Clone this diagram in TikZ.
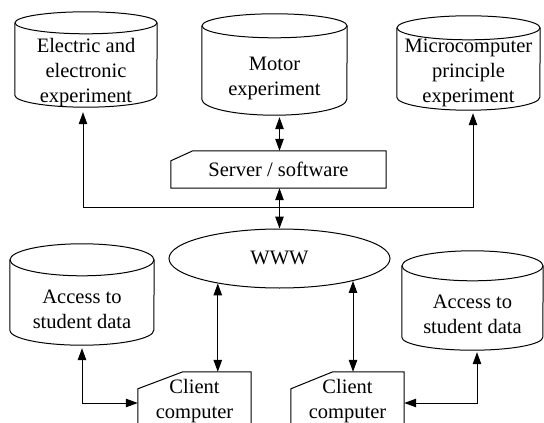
\documentclass[tikz,border=0pt]{standalone}
\usepackage{fontspec}
\setmainfont{Liberation Serif}
\usetikzlibrary{arrows.meta,shapes.geometric,calc}
\tikzset{
  every node/.style={font=\fontsize{20.5}{25}\selectfont, inner sep=0pt, align=center},
  ln/.style={line width=1pt},
  cylbody/.style={draw=none, rectangle},
  cardbox/.style={draw=none, rectangle},
  arr/.style={ln, -{Triangle[length=12pt,width=8.5pt]}},
  darr/.style={ln, {Triangle[length=12pt,width=8.5pt]}-{Triangle[length=12pt,width=8.5pt]}},
}
% name, cx, cy, half width, height, ry top, ry bottom
\newcommand\cylnode[7]{%
  \node[cylbody, minimum width={2*#4pt}, minimum height=#5pt] (#1) at (#2,#3) {};
  \draw[ln] ([yshift=-#6pt]#1.north west) -- ([yshift=#7pt]#1.south west)
     arc[start angle=180, end angle=360, x radius=#4pt, y radius=#7pt]
     -- ([yshift=-#6pt]#1.north east);
  \draw[ln] ([yshift=-#6pt]#1.north) ellipse[x radius=#4pt, y radius=#6pt];
}
% name, cx, cy, width, height, cut x, cut y, text
\newcommand\cardnode[8]{%
  \node[cardbox, minimum width=#4pt, minimum height=#5pt] (#1) at (#2,#3) {#8};
  \draw[ln] ([yshift=-#7pt]#1.north west) -- ([xshift=#6pt]#1.north west)
     -- (#1.north east) -- (#1.south east) -- (#1.south west) -- cycle;
}
\begin{document}
\begin{tikzpicture}[x=1pt,y=-1pt]
\useasboundingbox (0,0) rectangle (544,423);

% cylinders
\cylnode{E}{86}{59.5}{71}{95}{11}{12}
\cylnode{M}{274.5}{64.5}{72.5}{101}{12}{16}
\cylnode{Mi}{468.5}{63}{71.5}{94}{12}{13}
\cylnode{A1}{82}{294.5}{72}{101}{16}{15}
\cylnode{A2}{472.5}{300.5}{70.5}{99}{15}{13}

\node (Et) at (86,73) {Electric and\\electronic\\experiment};
\node (Mt) at (274.5,78) {Motor\\experiment};
\node (Mit) at (468.5,73) {Microcomputer\\principle\\experiment};
\node (A1t) at (82,309) {Access to\\student data};
\node (A2t) at (472.5,314.5) {Access to\\student data};

% cards
\cardnode{S}{278.5}{169.5}{215}{37}{22}{10}{\raisebox{-2pt}{Server / software}}
\cardnode{C1}{194.5}{401.5}{113}{59}{45}{17}{\fontsize{20.5}{26}\selectfont Client\\computer}
\cardnode{C2}{347.5}{401.5}{113}{59}{42}{17}{\fontsize{20.5}{26}\selectfont Client\\computer}

% WWW
\node[ellipse, draw, ln, minimum width=221pt, minimum height=59pt] (W) at (279.5,258.5) {\raisebox{2pt}{WWW}};

% connectors
\draw[darr, shorten <=2pt] (W.north |- M.south) -- (S.north -| W.north);
\draw[darr] (S.south -| W.north) -- (W.north);
\coordinate (bus) at (W.north |- 0,207);
\draw[arr, shorten >=5pt] (bus) -| ([xshift=-3pt]E.south);
\draw[arr, shorten >=3pt] (bus) -| ([xshift=4.5pt]Mi.south);
\draw[darr] (W.202.7) -- (W.202.7 |- C1.north);
\draw[darr] (W.343.3) -- (W.343.3 |- C2.north);
\draw[darr, shorten <=3pt] (A1.south) |- (C1.west |- 0,403);
\draw[darr, shorten <=2pt] ([xshift=4.5pt]A2.south) |- (C2.east |- 0,403);
\end{tikzpicture}
\end{document}
